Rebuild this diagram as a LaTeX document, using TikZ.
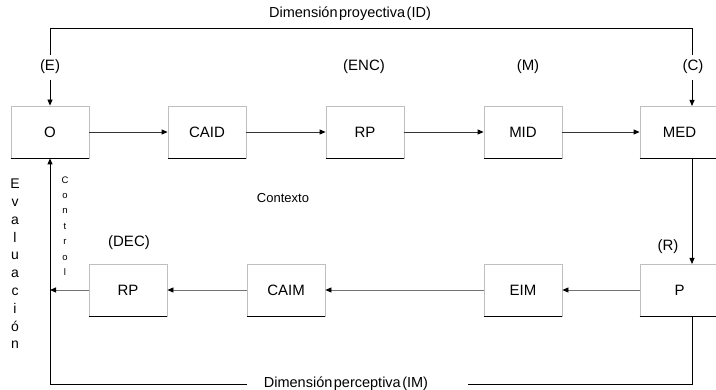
\documentclass[tikz,border=0pt]{standalone}
\usepackage{fontspec}
\setmainfont{Liberation Sans}
\usetikzlibrary{arrows.meta}
\begin{document}
\begin{tikzpicture}[x=1pt,y=-1pt,
  box/.style={draw=black!25,line width=0.8pt,minimum width=78pt,minimum height=52pt,inner sep=0pt,font=\fontsize{15}{17}\selectfont},
  lbl/.style={inner sep=0pt,font=\fontsize{15}{17}\selectfont},
  dimlbl/.style={inner sep=0pt,font=\fontsize{14.5}{17}\selectfont},
  tip/.style={-{Triangle[length=6pt,width=5pt,color=black]}},
  toparrow/.style={tip,draw=black!80,line width=0.8pt},
  botarrow/.style={tip,draw=black!55,line width=0.8pt},
  frame/.style={draw=black,line width=0.8pt}]
\useasboundingbox (0,0) rectangle (716,390);
% top row
\node[box] (O) at (50,132) {O};
\node[box] (CAID) at (207,132) {CAID};
\node[box] (RP1) at (365,132) {RP};
\node[box] (MID) at (523,132) {MID};
\node[box,minimum width=79pt] (MED) at (679.5,132) {MED};
% bottom row
\node[box] (RP2) at (128,290) {RP};
\node[box] (CAIM) at (286,290) {CAIM};
\node[box] (EIM) at (523,290) {EIM};
\node[box,minimum width=79pt] (P) at (679.5,290) {P};
\foreach \n in {O,CAID,RP1,MID,MED,RP2,CAIM,EIM,P}
  \draw[black,line width=0.8pt] (\n.south west) -- (\n.south east);
% labels
\node[dimlbl] (ID) at (350,14) {Dimensión\hspace{1.5pt}proyectiva\hspace{1.5pt}(ID)};
\node[dimlbl] (IM) at (346,384) {Dimensión\hspace{1.5pt}perceptiva\hspace{1.5pt}(IM)};
\node[lbl] (E) at (50,67) {(E)};
\node[lbl] (ENC) at (364,67) {(ENC)};
\node[lbl] (M) at (528,67) {(M)};
\node[lbl] (C) at (693,67) {(C)};
\node[lbl] (R) at (668,247) {(R)};
\node[lbl] (DEC) at (129,243) {(DEC)};
\node[inner sep=0pt,font=\fontsize{13}{15}\selectfont] (ctx) at (283,198) {Contexto};
\node[inner sep=0pt,align=center,font=\fontsize{14}{17.8}\selectfont] (eval) at (15,264) {E\\v\\a\\l\\u\\a\\c\\i\\ó\\n};
\node[inner sep=0pt,align=center,font=\fontsize{9.5}{15.4}\selectfont] (ctrl) at (65,226) {C\\o\\n\\t\\r\\o\\l};
% coordinates
\coordinate (tl) at (50,28);
\coordinate (tr) at (692,28);
\coordinate (bl) at (50,384);
\coordinate (br) at (692,384);
\coordinate (ltap) at (50,290);
% top frame
\draw[frame] (50,55) -- (tl) -- (tr) -- (692,55);
\draw[frame,tip] (50,80) -- (O.north);
\draw[frame,tip] (692,80) -- (692,106);
% right side
\draw[frame,tip] (692,158) -- (692,264);
% bottom frame
\draw[frame] (692,316) -- (br) -- (468,384);
\draw[frame,tip] (247,384) -- (bl) -- (O.south);
% top row arrows
\draw[toparrow] (O) -- (CAID);
\draw[toparrow] (CAID) -- (RP1);
\draw[toparrow] (RP1) -- (MID);
\draw[toparrow] (MID) -- (MED);
% bottom row arrows
\draw[botarrow] (P) -- (EIM);
\draw[botarrow] (EIM) -- (CAIM);
\draw[botarrow] (CAIM) -- (RP2);
\draw[botarrow] (RP2) -- (ltap);
\end{tikzpicture}
\end{document}
